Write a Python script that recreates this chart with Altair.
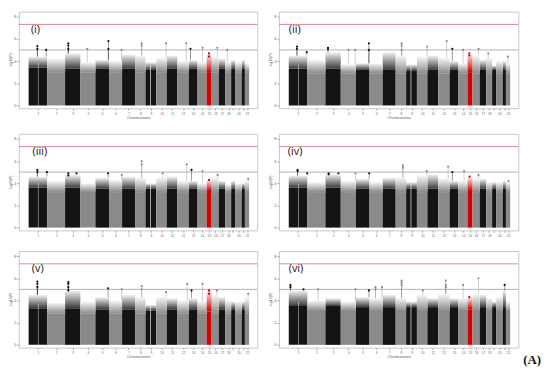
import altair as alt
import pandas as pd

# ---------------- data ----------------
CHR = [str(i) for i in range(1, 23)]
# labels actually printed under the axis (19 and 21 are skipped)
CHR_LABEL = [str(i) for i in range(1, 19)] + ["", "20", "", "22"]
# width of each chromosome block on the x axis (Mb)
CHR_LEN = [235, 227, 194, 190, 173, 165, 165, 132, 136, 132, 136, 144,
           111, 116, 62, 91, 83, 74, 50, 83, 41, 54]
HIGHLIGHT = "15"
# white gaps (centromere / heterochromatin): chromosome, start, end (cumulative Mb)
GAP_CHR = [1, 9]
GAP_START = [118, 1538]
GAP_END = [123, 1546]

PANEL_NAMES = ["(i)", "(ii)", "(iii)", "(iv)", "(v)", "(vi)"]
LABEL_X = [29, 0, 50, -12, 41, 0]
SHOW_XTITLE = [True, True, False, False, True, True]

# solid body height per chromosome (-log10 P)
BODY = [
    [3.4, 3.0, 3.3, 3.0, 3.3, 3.0, 3.3, 3.0, 3.2, 3.0, 3.3, 3.0, 3.3, 3.0, 3.0, 3.0, 3.3, 3.0, 3.3, 3.0, 3.3, 3.0],
    [3.3, 2.9, 3.3, 2.9, 3.2, 2.9, 3.2, 2.9, 3.1, 2.9, 3.2, 2.9, 3.2, 2.9, 3.0, 2.9, 3.2, 2.9, 3.2, 2.9, 3.2, 2.9],
    [3.6, 3.2, 3.6, 3.2, 3.5, 3.2, 3.5, 3.2, 3.5, 3.2, 3.5, 3.2, 3.5, 3.2, 3.3, 3.2, 3.5, 3.2, 3.5, 3.2, 3.5, 3.2],
    [3.6, 3.2, 3.6, 3.2, 3.5, 3.2, 3.5, 3.2, 3.5, 3.2, 3.5, 3.2, 3.5, 3.2, 3.3, 3.2, 3.5, 3.2, 3.5, 3.2, 3.5, 3.2],
    [3.3, 2.8, 3.3, 2.8, 3.2, 2.8, 3.2, 2.8, 3.1, 2.8, 3.2, 2.8, 3.2, 2.8, 3.0, 2.8, 3.2, 2.8, 3.2, 2.8, 3.2, 2.8],
    [3.5, 3.05, 3.5, 3.05, 3.4, 3.05, 3.4, 3.05, 3.4, 3.05, 3.4, 3.05, 3.4, 3.05, 3.2, 3.05, 3.4, 3.05, 3.4, 3.05, 3.4, 3.05],
]
# top of the sparse scatter per chromosome (-log10 P)
FRINGE = [
    [4.4, 4.2, 4.7, 3.9, 4.1, 4.0, 4.6, 4.5, 3.9, 4.3, 4.5, 4.0, 4.1, 3.9, 4.6, 4.4, 4.2, 3.9, 4.1, 3.9, 4.1, 3.8],
    [4.5, 4.1, 4.8, 3.7, 3.8, 3.8, 4.8, 4.5, 3.7, 4.4, 4.5, 4.3, 4.0, 3.8, 4.7, 4.5, 4.1, 4.3, 3.6, 4.0, 4.0, 3.8],
    [4.6, 4.2, 4.75, 4.0, 4.5, 4.3, 4.6, 4.5, 4.0, 4.5, 4.6, 4.2, 4.2, 4.0, 4.3, 4.5, 4.2, 3.9, 4.2, 4.0, 4.0, 4.2],
    [4.7, 4.1, 4.8, 4.2, 4.4, 4.1, 4.5, 4.5, 4.1, 4.7, 4.8, 4.4, 4.2, 4.2, 4.6, 4.4, 4.4, 4.1, 4.1, 4.1, 4.2, 4.1],
    [4.5, 3.8, 4.9, 3.9, 4.3, 4.0, 4.5, 4.3, 3.6, 4.3, 4.2, 4.0, 4.2, 3.9, 4.9, 4.5, 4.3, 4.0, 3.9, 3.9, 3.9, 4.3],
    [4.9, 4.0, 4.2, 3.9, 4.3, 4.2, 4.5, 4.2, 3.9, 4.5, 4.2, 4.6, 4.2, 4.2, 4.3, 4.6, 4.5, 4.2, 3.9, 4.3, 4.9, 3.9],
]
# standout SNPs per panel: chromosome, cumulative position (Mb), -log10 P
PEAK_CHR = [
    [1, 1, 1, 3, 3, 3, 4, 5, 5, 6, 8, 8, 10, 12, 13, 14, 15, 15, 16, 18],
    [1, 1, 1, 3, 3, 4, 4, 5, 5, 8, 8, 8, 10, 12, 13, 14, 15, 15, 16, 18, 22],
    [1, 1, 1, 3, 3, 3, 5, 6, 8, 8, 10, 12, 13, 14, 15, 16, 22],
    [1, 1, 1, 3, 3, 3, 4, 5, 8, 8, 10, 12, 13, 14, 15, 16, 22],
    [1, 1, 1, 3, 3, 3, 3, 5, 6, 8, 8, 10, 12, 13, 14, 15, 15, 16, 22],
    [1, 1, 1, 2, 4, 5, 6, 6, 6, 8, 8, 8, 10, 12, 12, 12, 14, 15, 16, 21],
]
PEAK_POS = [
    [111, 111, 223, 503, 503, 503, 743, 1011, 1011, 1176, 1432, 1432, 1742, 1997, 2051, 2204, 2286, 2286, 2390, 2517],
    [103, 103, 227, 495, 495, 755, 838, 1011, 1011, 1424, 1424, 1424, 1746, 1993, 2064, 2200, 2278, 2278, 2394, 2517, 2765],
    [111, 111, 232, 503, 503, 607, 1007, 1180, 1432, 1432, 1700, 2002, 2064, 2204, 2286, 2394, 2782],
    [111, 111, 232, 503, 503, 627, 842, 1015, 1440, 1440, 1742, 2011, 2064, 2212, 2282, 2394, 2773],
    [111, 111, 111, 503, 503, 503, 503, 1007, 1180, 1432, 1432, 1742, 2010, 2064, 2204, 2286, 2286, 2385, 2782],
    [21, 21, 186, 371, 842, 1011, 1094, 1094, 1176, 1424, 1424, 1424, 1692, 1981, 1981, 1981, 2200, 2278, 2394, 2724],
]
PEAK_P = [
    [5.35, 5.1, 5.0, 5.6, 5.4, 5.1, 5.1, 5.8, 5.1, 5.0, 5.6, 5.4, 5.6, 5.6, 5.1, 5.2, 4.7, 4.4, 5.2, 5.0],
    [5.3, 5.1, 4.8, 5.2, 5.1, 5.0, 5.0, 5.6, 5.0, 5.6, 5.4, 5.0, 5.3, 5.8, 5.1, 5.0, 4.7, 4.5, 5.1, 4.7, 4.4],
    [5.2, 5.0, 5.0, 4.9, 4.7, 4.9, 4.9, 4.75, 6.0, 5.7, 4.9, 5.7, 5.2, 5.1, 4.3, 4.75, 4.4],
    [5.2, 5.1, 4.9, 4.9, 4.8, 4.9, 4.9, 4.9, 5.6, 5.4, 5.1, 5.5, 5.0, 5.1, 4.6, 4.75, 4.2],
    [5.7, 5.5, 5.2, 5.65, 5.5, 5.2, 4.9, 5.1, 5.0, 5.3, 5.0, 4.75, 5.5, 4.9, 5.5, 4.9, 4.6, 4.9, 4.6],
    [5.4, 5.2, 5.0, 5.0, 5.0, 4.9, 5.2, 5.0, 5.2, 5.8, 5.6, 5.4, 4.9, 5.8, 5.4, 5.2, 5.4, 4.3, 6.0, 5.4],
]
SUGGESTIVE = 5.0
GENOMEWIDE = 7.3
Y_TICKS = [0, 2, 4, 6, 8]

# ---------------- derived tables ----------------
starts = []
acc = 0
for L in CHR_LEN:
    starts.append(acc)
    acc += L
ends = [s + L for s, L in zip(starts, CHR_LEN)]
centers = [int(round((s + e) / 2)) for s, e in zip(starts, ends)]

BLACK, GREY, RED = "#141414", "#8a8a8a", "#d40000"


def chr_color(c):
    if c == HIGHLIGHT:
        return RED
    return BLACK if int(c) % 2 == 1 else GREY


XS = alt.Scale(domain=[-124, 2897], nice=False, zero=False)
YS = alt.Scale(domain=[-0.25, 8.45], nice=False, zero=False)

label_expr = "[" + ",".join(f"'{c}'" for c in CHR_LABEL) + "][indexof([" + \
    ",".join(str(v) for v in centers) + "], datum.value)]"


def fade(col, top_color):
    return alt.Gradient(
        gradient="linear",
        stops=[alt.GradientStop(color=top_color, offset=0),
               alt.GradientStop(color=col, offset=1)],
        x1=0, x2=0, y1=0, y2=1)


def make_panel(k, w):
    xaxis = alt.Axis(values=centers, labelExpr=label_expr, labelFontSize=3.2,
                     labelColor="#666", tickSize=2, tickColor="#aaa",
                     labelPadding=1, domain=False, grid=False,
                     title="Chromosome" if SHOW_XTITLE[k] else "",
                     titleFontSize=4, titleColor="#666", titlePadding=1,
                     titleFontWeight="normal", labelOverlap=False,
                     labelFlush=False, labelBound=False)
    yaxis = alt.Axis(values=Y_TICKS, labelFontSize=4, labelColor="#666",
                     tickSize=2, tickColor="#aaa", labelPadding=1,
                     domain=False, grid=False, title="-log10(P)",
                     titleFontSize=3.5, titleColor="#666", titlePadding=1,
                     titleFontWeight="normal", labelOverlap=False)

    def X(f):
        return alt.X(f, scale=XS, axis=xaxis)

    def Y(f):
        return alt.Y(f, scale=YS, axis=yaxis)

    df = pd.DataFrame({
        "chr": CHR, "start": starts, "end": ends, "zero": 0.0,
        "body": BODY[k], "fringe": FRINGE[k],
        "col": [chr_color(c) for c in CHR],
    })
    base = alt.Chart(df)
    body = base.mark_rect().encode(
        x=X("start:Q"), x2="end:Q", y=Y("zero:Q"), y2="body:Q",
        color=alt.Color("col:N", scale=None),
    )
    fringes = []
    for col, top in [(BLACK, "#f4f4f4"), (GREY, "#f7f7f7"), (RED, "#fbeaea")]:
        fringes.append(base.transform_filter(alt.datum.col == col).mark_rect(
            color=fade(col if col != BLACK else "#3a3a3a", top)).encode(
            x=X("start:Q"), x2="end:Q", y=Y("body:Q"), y2="fringe:Q"))
    gdf = pd.DataFrame({
        "s": GAP_START, "e": GAP_END, "z": 0.0,
        "top": [BODY[k][c - 1] + 0.4 for c in GAP_CHR],
    })
    gaps = alt.Chart(gdf).mark_rect(color="white").encode(
        x=X("s:Q"), x2="e:Q", y=Y("z:Q"), y2="top:Q")
    pdf = pd.DataFrame({
        "pos": PEAK_POS[k], "p": PEAK_P[k],
        "base": [FRINGE[k][c - 1] for c in PEAK_CHR[k]],
        "col": [chr_color(str(c)) for c in PEAK_CHR[k]],
    })
    spikes = alt.Chart(pdf).mark_rule(strokeWidth=0.6, opacity=0.7).encode(
        x=X("pos:Q"), y=Y("base:Q"), y2="p:Q",
        color=alt.Color("col:N", scale=None))
    pts = alt.Chart(pdf).mark_point(filled=True, size=5, opacity=1).encode(
        x=X("pos:Q"), y=Y("p:Q"), color=alt.Color("col:N", scale=None))
    sug = alt.Chart(pd.DataFrame({"y": [SUGGESTIVE]})).mark_rule(
        color="#b0b0c2", strokeWidth=1).encode(y=Y("y:Q"))
    gw = alt.Chart(pd.DataFrame({"y": [GENOMEWIDE]})).mark_rule(
        color="#d98893", strokeWidth=1).encode(y=Y("y:Q"))
    ldf = pd.DataFrame({"x": [LABEL_X[k]], "y": [6.8], "t": [PANEL_NAMES[k]]})
    lab = alt.Chart(ldf).mark_text(align="left", baseline="middle", fontSize=11,
                                   font="Open Sans", color="#111").encode(
        x=X("x:Q"), y=Y("y:Q"), text="t:N")
    layers = [body] + fringes + [gaps, sug, gw, spikes, pts, lab]
    if k == 5:
        adf = pd.DataFrame({"t": ["(A)"]})
        layers.append(alt.Chart(adf).mark_text(
            font="Liberation Serif", fontWeight="bold", fontSize=13,
            align="center", baseline="middle", color="#111").encode(
            x=alt.value(w + 14), y=alt.value(111), text="t:N"))
    return alt.layer(*layers).properties(width=w, height=98)


rows = []
for r in range(3):
    rows.append(alt.hconcat(make_panel(2 * r, 242), make_panel(2 * r + 1, 243),
                            spacing=10))
chart = alt.vconcat(*rows, spacing=13).properties(padding=0).configure_view(
    stroke="#c8c8c8", strokeWidth=1)

chart.save("out.html", embed_options={"renderer": "svg", "actions": False})
